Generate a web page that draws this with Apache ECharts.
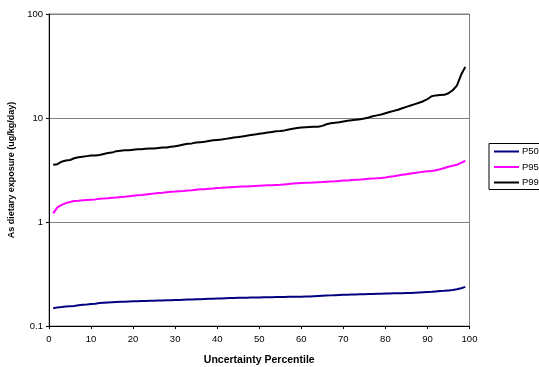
<!DOCTYPE html>
<html>
<head>
<meta charset="utf-8">
<script src="https://cdn.jsdelivr.net/npm/echarts@6/dist/echarts.min.js"></script>
<style>html,body{margin:0;padding:0;background:#fff}#c{width:539px;height:367px}</style>
</head>
<body>
<div id="c"></div>
<script>
const percentiles = Array.from({length: 99}, (_, i) => i + 1);
const seriesNames = ['P50', 'P95', 'P99'];
const p50 = [0.148,0.151,0.152,0.154,0.155,0.156,0.158,0.160,0.161,0.163,
0.164,0.166,0.167,0.168,0.169,0.170,0.171,0.171,0.172,0.173,
0.173,0.174,0.174,0.175,0.175,0.176,0.176,0.177,0.177,0.178,
0.178,0.179,0.180,0.180,0.181,0.181,0.182,0.183,0.183,0.184,
0.184,0.185,0.186,0.186,0.187,0.187,0.187,0.188,0.188,0.188,
0.189,0.189,0.189,0.190,0.190,0.190,0.191,0.191,0.191,0.191,
0.192,0.192,0.193,0.194,0.195,0.196,0.197,0.198,0.199,0.200,
0.200,0.201,0.201,0.202,0.202,0.203,0.203,0.204,0.204,0.205,
0.205,0.206,0.207,0.207,0.208,0.208,0.209,0.210,0.211,0.212,
0.213,0.215,0.217,0.218,0.220,0.222,0.226,0.231,0.238];
const p95 = [1.21,1.38,1.46,1.52,1.56,1.59,1.60,1.62,1.63,1.64,
1.65,1.67,1.68,1.69,1.71,1.72,1.74,1.75,1.77,1.79,
1.81,1.82,1.84,1.86,1.88,1.90,1.91,1.93,1.95,1.96,
1.98,1.99,2.01,2.02,2.04,2.06,2.07,2.09,2.10,2.12,
2.13,2.15,2.16,2.17,2.18,2.19,2.20,2.21,2.22,2.23,
2.24,2.25,2.26,2.27,2.28,2.30,2.32,2.34,2.36,2.37,
2.38,2.39,2.40,2.41,2.42,2.44,2.45,2.46,2.48,2.50,
2.51,2.53,2.55,2.56,2.58,2.60,2.62,2.63,2.65,2.68,
2.72,2.76,2.80,2.84,2.88,2.92,2.96,3.00,3.04,3.07,
3.10,3.15,3.21,3.30,3.40,3.48,3.55,3.70,3.88];
const p99 = [3.55,3.60,3.80,3.90,3.95,4.10,4.20,4.25,4.30,4.35,
4.35,4.40,4.50,4.60,4.65,4.80,4.85,4.90,4.90,4.95,
5.00,5.00,5.05,5.10,5.10,5.15,5.20,5.20,5.30,5.35,
5.45,5.55,5.65,5.70,5.80,5.85,5.90,6.00,6.10,6.15,
6.20,6.30,6.40,6.50,6.55,6.65,6.75,6.85,6.95,7.05,
7.15,7.25,7.35,7.45,7.50,7.60,7.75,7.90,8.00,8.10,
8.15,8.20,8.25,8.25,8.40,8.70,8.90,9.00,9.10,9.25,
9.40,9.50,9.60,9.75,9.90,10.1,10.4,10.6,10.8,11.1,
11.4,11.7,12.0,12.4,12.8,13.2,13.6,14.0,14.5,15.2,
16.2,16.5,16.6,16.7,17.3,18.5,20.5,26.0,31.0];
const yTicks = [0.1, 1, 10, 100];
const xTicks = [0,10,20,30,40,50,60,70,80,90,100];

const colors = ['#000080', '#FF00FF', '#000000'];
const values = [p50, p95, p99];
const font = 'Liberation Sans, Arial, sans-serif';

const chart = echarts.init(document.getElementById('c'));
chart.setOption({
  animation: false,
  backgroundColor: '#fff',
  textStyle: {fontFamily: font},
  grid: {left: 49, top: 14, right: 69.5, bottom: 41, show: true, borderColor: '#808080', borderWidth: 1,
    backgroundColor: 'transparent', containLabel: false, outerBoundsMode: 'none'},
  legend: {
    orient: 'vertical', left: 489, top: 143.5,
    data: seriesNames,
    itemWidth: 25, itemHeight: 12, itemGap: 5.5,
    padding: [3, 3, 2, 4],
    borderColor: '#000', borderWidth: 1,
    itemStyle: {opacity: 0},
    lineStyle: {width: 2},
    textStyle: {fontFamily: font, fontSize: 9.5, color: '#000', padding: [0,0,0,-2]}
  },
  xAxis: {
    type: 'value', min: 0, max: 100, interval: 10,
    name: 'Uncertainty Percentile', nameLocation: 'middle', nameGap: 29,
    nameTextStyle: {fontFamily: font, fontSize: 10.5, fontWeight: 'bold', color: '#000'},
    axisLine: {show: true, onZero: false, lineStyle: {color: '#000', width: 1}},
    axisTick: {show: true, length: 3, lineStyle: {color: '#000'}},
    axisLabel: {fontFamily: font, fontSize: 9.5, color: '#000', margin: 8},
    splitLine: {show: false}
  },
  yAxis: {
    type: 'log', logBase: 10, min: 0.1, max: 100,
    name: 'As dietary exposure (ug/kg/day)', nameLocation: 'middle', nameGap: 27,
    nameTextStyle: {fontFamily: font, fontSize: 9, fontWeight: 'bold', color: '#000'},
    axisLine: {show: true, lineStyle: {color: '#000', width: 1}},
    axisTick: {show: true, length: 3, lineStyle: {color: '#000'}},
    axisLabel: {fontFamily: font, fontSize: 9.5, color: '#000', margin: 6,
      formatter: v => { const t = yTicks.find(x => Math.abs(x - v) / x < 1e-6); return t === undefined ? String(v) : String(t); }},
    splitLine: {show: true, lineStyle: {color: '#808080', width: 1}},
    minorTick: {show: false}
  },
  series: seriesNames.map((n, i) => ({
    name: n, type: 'line', symbol: 'none', smooth: false,
    data: percentiles.map((p, j) => [p, values[i][j]]),
    lineStyle: {color: colors[i], width: 2},
    itemStyle: {color: colors[i]}
  }))
});
</script>
</body>
</html>
